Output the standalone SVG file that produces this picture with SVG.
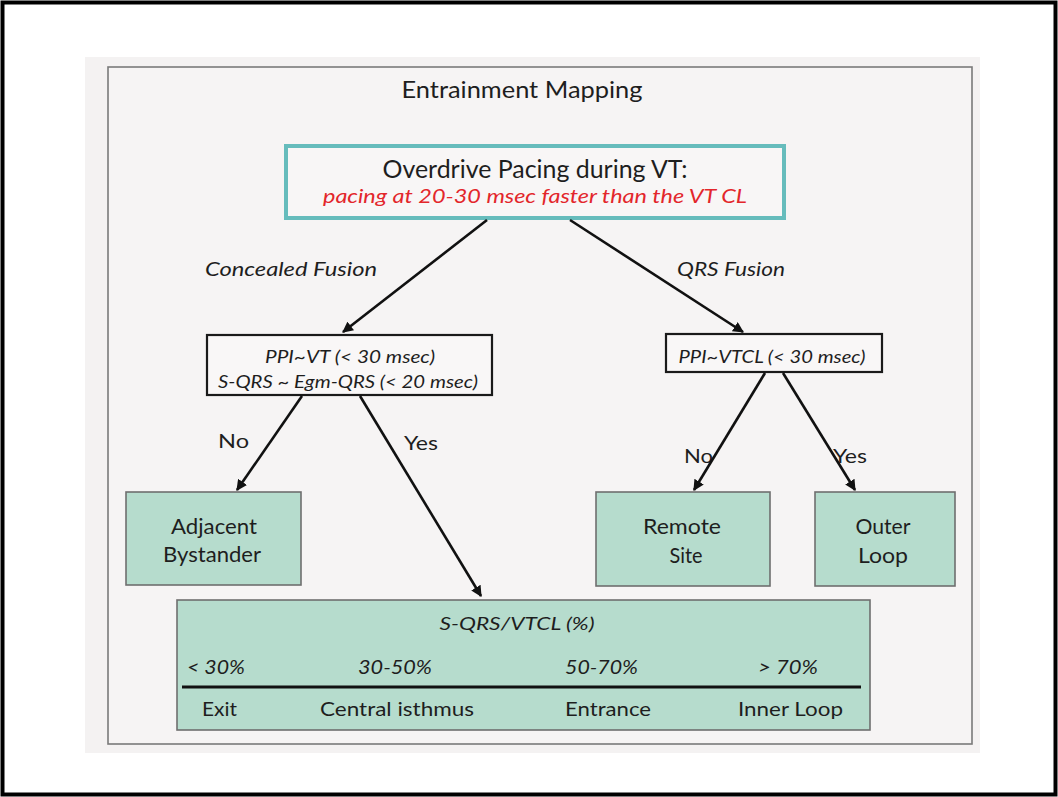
<svg xmlns="http://www.w3.org/2000/svg" width="1058" height="797" viewBox="0 0 1058 797">
<defs>
<style>
text{font-family:Lato,"Open Sans","Liberation Sans",sans-serif;fill:#1e1e1e}
.it{font-style:italic}
.ctr{text-anchor:middle}
.red{fill:#e3262b}
.green{fill:#b6dccd;stroke:#6f6f6f;stroke-width:1.6}
.mid{fill:#f9f7f7;stroke:#1a1a1a;stroke-width:2.2}
.conn line{stroke:#111;stroke-width:2.6;marker-end:url(#ah)}
</style>
<marker id="ah" viewBox="0 0 10 10" refX="9" refY="5" markerWidth="4.2" markerHeight="4.2" orient="auto" markerUnits="strokeWidth">
<path d="M0,0 L10,5 L0,10 z" fill="#111"/>
</marker>
</defs>
<rect x="0" y="0" width="1058" height="797" fill="#ffffff"/>
<rect x="2.5" y="2.5" width="1053" height="792" fill="none" stroke="#000" stroke-width="4"/>
<rect x="85" y="57" width="895" height="696" fill="#f4f2f2"/>
<rect x="108" y="67" width="864" height="677" fill="#f6f4f4" stroke="#7a7a7a" stroke-width="1.6"/>

<g id="title"><text class="ctr" x="522" y="98" font-size="23" textLength="241" lengthAdjust="spacingAndGlyphs">Entrainment Mapping</text></g>

<g id="overdrive">
<rect x="286" y="146" width="498" height="72" fill="#f8f6f6" stroke="#66bcbc" stroke-width="4"/>
<text class="ctr" x="535" y="178" font-size="25" textLength="305" lengthAdjust="spacingAndGlyphs">Overdrive Pacing during VT:</text>
<text class="ctr it red" x="535" y="203" font-size="20" textLength="424" lengthAdjust="spacingAndGlyphs">pacing at 20-30 msec faster than the VT CL</text>
</g>

<g id="labels-top">
<text class="it" x="205" y="276" font-size="20" textLength="172" lengthAdjust="spacingAndGlyphs">Concealed Fusion</text>
<text class="it" x="677" y="276" font-size="20" textLength="108" lengthAdjust="spacingAndGlyphs">QRS Fusion</text>
</g>

<g id="concealed-box">
<rect class="mid" x="207" y="335" width="285" height="60"/>
<text class="ctr it" x="350" y="363" font-size="18" textLength="170" lengthAdjust="spacingAndGlyphs">PPI~VT (&lt; 30 msec)</text>
<text class="ctr it" x="348" y="388" font-size="18" textLength="260" lengthAdjust="spacingAndGlyphs">S-QRS ~ Egm-QRS (&lt; 20 msec)</text>
</g>

<g id="qrs-box">
<rect class="mid" x="666" y="334" width="216" height="38"/>
<text class="ctr it" x="772" y="363" font-size="18" textLength="187" lengthAdjust="spacingAndGlyphs">PPI~VTCL (&lt; 30 msec)</text>
</g>

<g id="branch-labels">
<text x="218" y="448" font-size="20" textLength="31" lengthAdjust="spacingAndGlyphs">No</text>
<text x="404" y="450" font-size="20" textLength="34" lengthAdjust="spacingAndGlyphs">Yes</text>
<text x="684" y="463" font-size="20" textLength="29" lengthAdjust="spacingAndGlyphs">No</text>
<text x="833" y="463" font-size="20" textLength="34" lengthAdjust="spacingAndGlyphs">Yes</text>
</g>

<g id="adjacent">
<rect class="green" x="126" y="492" width="175" height="93"/>
<text class="ctr" x="214" y="534" font-size="21" textLength="86" lengthAdjust="spacingAndGlyphs">Adjacent</text>
<text class="ctr" x="212" y="562" font-size="21" textLength="98" lengthAdjust="spacingAndGlyphs">Bystander</text>
</g>

<g id="remote">
<rect class="green" x="596" y="492" width="174" height="94"/>
<text class="ctr" x="682" y="534" font-size="21" textLength="78" lengthAdjust="spacingAndGlyphs">Remote</text>
<text class="ctr" x="686" y="563" font-size="21" textLength="33" lengthAdjust="spacingAndGlyphs">Site</text>
</g>

<g id="outer">
<rect class="green" x="815" y="492" width="140" height="94"/>
<text class="ctr" x="883" y="534" font-size="21" textLength="55" lengthAdjust="spacingAndGlyphs">Outer</text>
<text class="ctr" x="883" y="563" font-size="21" textLength="50" lengthAdjust="spacingAndGlyphs">Loop</text>
</g>

<g id="isthmus-scale">
<rect class="green" x="177" y="600" width="693" height="130"/>
<text class="ctr it" x="517" y="630" font-size="18" textLength="155" lengthAdjust="spacingAndGlyphs">S-QRS/VTCL (%)</text>
<text class="it" x="187" y="674" font-size="19" textLength="58" lengthAdjust="spacingAndGlyphs">&lt; 30%</text>
<text class="it" x="358" y="674" font-size="19" textLength="74" lengthAdjust="spacingAndGlyphs">30-50%</text>
<text class="it" x="565" y="674" font-size="19" textLength="73" lengthAdjust="spacingAndGlyphs">50-70%</text>
<text class="it" x="758" y="674" font-size="19" textLength="60" lengthAdjust="spacingAndGlyphs">&gt; 70%</text>
<line x1="182" y1="687" x2="861" y2="687" stroke="#111" stroke-width="3"/>
<text x="202" y="716" font-size="20" textLength="35" lengthAdjust="spacingAndGlyphs">Exit</text>
<text x="320" y="716" font-size="20" textLength="154" lengthAdjust="spacingAndGlyphs">Central isthmus</text>
<text x="565" y="716" font-size="20" textLength="86" lengthAdjust="spacingAndGlyphs">Entrance</text>
<text x="738" y="716" font-size="20" textLength="105" lengthAdjust="spacingAndGlyphs">Inner Loop</text>
</g>

<g id="connectors" class="conn">
<line x1="487" y1="220" x2="343" y2="332"/>
<line x1="570" y1="220" x2="743" y2="332"/>
<line x1="302" y1="396" x2="237" y2="490"/>
<line x1="360" y1="396" x2="481" y2="596"/>
<line x1="765" y1="373" x2="694" y2="490"/>
<line x1="783" y1="373" x2="855" y2="490"/>
</g>
</svg>
